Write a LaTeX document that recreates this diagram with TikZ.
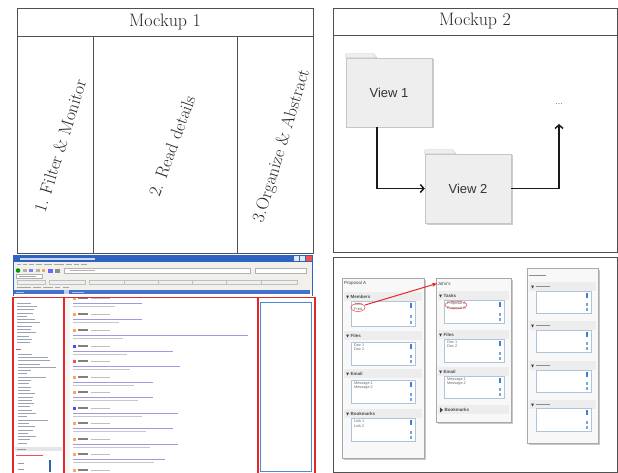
\documentclass[tikz,border=0pt]{standalone}
\usepackage{fontspec}
\newfontfamily\arialfont{Liberation Sans}
\usetikzlibrary{arrows.meta}

\definecolor{frame}{HTML}{505050}
\definecolor{folderfill}{HTML}{EEEEEE}
\definecolor{folderdraw}{HTML}{C6C6C6}
\definecolor{band}{HTML}{EDEDED}
\definecolor{boxline}{HTML}{AFC4DA}
\definecolor{scrollblue}{HTML}{3F7FD0}
\definecolor{panelfill}{HTML}{F8F8F8}
\definecolor{paneldraw}{HTML}{A9A9A9}
\definecolor{winblue}{HTML}{2F63C2}
\definecolor{chrome}{HTML}{F1F0EA}
\definecolor{linkblue}{HTML}{9A9AE6}
\definecolor{listgrey}{HTML}{9AA3B5}
\definecolor{shotred}{HTML}{E8262A}
\definecolor{shotblue}{HTML}{4A88D8}

% one collapsible list section of a view panel
\newcommand\lsec[9]{%
  \fill[band] (#1,{#3-5}) rectangle (#2,{#3+4});
  \fill[black!75] ({#4-5},{#3-1.5}) -- ({#4-2},{#3-1.5}) -- ({#4-3.5},{#3+1.5}) -- cycle;
  \node[seclabel,anchor=west] at ({#4-1},#3) {#8};
  \draw[boxline,fill=white] (#4,#6) rectangle (#5,#7);
  \fill[scrollblue] ({#5-5},{#6+2}) rectangle ({#5-3},{#6+7});
  \fill[scrollblue!70] ({#5-5},{(#6+#7)/2+1}) rectangle ({#5-3},{(#6+#7)/2+4});
  \fill[scrollblue!70] ({#5-5},{#7-5}) rectangle ({#5-3},{#7-2});
  \node[itemtext,anchor=north west,align=left] at ({#4+3},{#6+1.5}) {#9};
}

% a folder-shaped view with a soft shadow
\newcommand\folderbox[4]{%
  \fill[black!20] ({#2-41.5},{#3-33}) rectangle ({#2+44.5},{#3+36});
  \node[folder] (#1) at (#2,#3) {#4};
  \filldraw[fill=folderfill,draw=folderdraw] (#1.north west) -- ++(0,-4) -- ++(28,0) -- ++(3,4) -- cycle;
}

\begin{document}
\begin{tikzpicture}[x=1pt,y=-1pt,
  boxframe/.style={draw=frame,line width=0.9pt},
  headtext/.style={font=\fontsize{18}{20}\selectfont,text=black!85},
  coltext/.style={font=\fontsize{17.5}{20}\selectfont,text=black!85},
  folder/.style={draw=folderdraw,fill=folderfill,minimum width=86pt,minimum height=69pt,
    inner sep=0pt,font=\arialfont\fontsize{13}{15}\selectfont,text=black!80},
  flow/.style={draw=black!90,line width=1.5pt,-{Straight Barb[length=3.5pt,width=8pt]}},
  seclabel/.style={font=\arialfont\fontsize{4.5}{5}\selectfont\bfseries,text=black!70,inner sep=0.5pt},
  itemtext/.style={font=\arialfont\fontsize{3.8}{4.6}\selectfont,text=black!60,inner sep=0pt},
  paneltitle/.style={font=\arialfont\fontsize{4.5}{5}\selectfont,text=black!75,inner sep=0.5pt},
  panel/.style={draw=paneldraw,fill=panelfill,line width=0.6pt},
  listtext/.style={draw=listgrey,line width=0.7pt},
  linktext/.style={draw=linkblue,line width=1pt},
  greytext/.style={draw=black!22,line width=0.6pt}]
\useasboundingbox (0,0) rectangle (618,473);
\fill[white] (0,0) rectangle (618,473);

% ---------------- Mockup 1: three columns ----------------
\draw[boxframe] (17,8) rectangle (313,253);
\draw[boxframe] (17,36) -- (313,36);
\draw[boxframe] (93,36) -- (93,253);
\draw[boxframe] (237,36) -- (237,253);
\node[headtext] (m1) at (165,22) {Mockup 1};
\node[coltext,rotate=72.5] (c1) at (60,146) {1. Filter \& Monitor};
\node[coltext,rotate=70] (c2) at (172,146) {2. Read details};
\node[coltext,rotate=73] (c3) at (282,146) {3.Organize \& Abstract};

% ---------------- Mockup 2: chained views ----------------
\draw[boxframe] (333,8) rectangle (617,252);
\draw[boxframe] (333,35) -- (617,35);
\node[headtext] (m2) at (475,21) {Mockup 2};
\folderbox{v1}{389}{92.5}{View 1}
\folderbox{v2}{468}{188.5}{View 2}
\node[font=\arialfont\fontsize{9}{10}\selectfont,text=black!55] (more) at (559,104) {...};
\coordinate (up) at (559,124);
\draw[flow] ([xshift=-12pt]v1.south) |- (v2.west);
\draw[flow] (v2.east) -| (up);

% ---------------- Screenshot of the first mockup ----------------
% window chrome
\fill[white] (13,255) rectangle (313,473);
\fill[winblue] (13,255) rectangle (313,262);
\fill[white!75!winblue] (20,257.5) rectangle (95,259.5);
\fill[white!85!winblue] (294,256) rectangle (299,261);
\fill[white!85!winblue] (300,256) rectangle (305,261);
\fill[red!70] (306,256) rectangle (312,261);
\fill[chrome] (13,262) rectangle (313,294);
\foreach \x/\w in {17/4,23/4,29/5,36/6,44/8,54/10,66/6,74/5,81/6}
  \draw[black!35,line width=0.6pt] (\x,264.5) -- ++(\w,0);
\fill[green!60!black] (18,270.5) circle (2.3);
\fill[black!30] (23,269) rectangle (27,272);
\fill[blue!50] (29,269) rectangle (33,272);
\fill[black!30] (36,269) rectangle (40,272);
\fill[orange!70] (42,269) rectangle (45,272);
\fill[blue!60] (48,268.5) rectangle (53,272.5);
\fill[black!45] (55,268.5) rectangle (60,272.5);
\draw[black!30,fill=white,line width=0.4pt] (64,268) rectangle (250,273);
\draw[black!30,line width=0.5pt] (70,270.5) -- (95,270.5);
\draw[black!30,fill=white,line width=0.4pt] (255,268) rectangle (306,273);
\draw[black!30,fill=white,line width=0.4pt] (16,274.5) rectangle (42,278.5);
\draw[black!35,line width=0.5pt] (19,276.5) -- (36,276.5);
\foreach \x/\w in {17/28,49/36,89/36,124/36,158/36,192/36,226/36,261/36}
  \draw[black!25,fill=white!94!black,line width=0.3pt] (\x,280) rectangle ++(\w,4);
\foreach \x/\w in {17/14,33/8,43/10,55/5,63/6}
  \draw[black!35,line width=0.5pt] (\x,287) -- ++(\w,0);
\fill[winblue!90] (13,289.5) rectangle (310,294);
\fill[white!70!winblue] (64,289.5) rectangle (69,294);
\draw[white!60!winblue,line width=0.5pt] (16,291.8) -- (24,291.8);
\draw[white!60!winblue,line width=0.5pt] (72,291.8) -- (84,291.8);
\draw[winblue,line width=0.8pt] (13,255) -- (13,296) (312.5,255) -- (312.5,296);

% left pane: tag list
\fill[black!4] (64,297) rectangle (70,473);
\foreach \i/\w in {0/14,1/20,2/17,3/16,4/10,5/18,6/23,7/15,8/14,9/19,10/12,11/15,12/13}
  \draw[listtext] (17,{303+3.3*\i}) -- ++(\w,0);
\draw[shotred!80,line width=0.8pt] (16,349) -- (21,349);
\foreach \i/\w in {0/14,1/30,2/32,3/22,4/38,5/13,6/9,7/28,8/13,9/11,10/13,11/12,12/17,13/15,14/14,15/16,16/12,17/14,18/18,19/9,20/30,21/11,22/17,23/15,24/10,25/18,26/12,27/9}
  \draw[listtext] (18,{354+3.3*\i}) -- ++(\w,0);
\fill[black!10] (15,447) rectangle (62,451);
\draw[black!40,line width=0.5pt] (17,449) -- (26,449);
\draw[shotred!80,line width=0.6pt] (16,455) -- (43,455);
\draw[black!40,line width=0.6pt] (18,463) -- (24,463) (18,469) -- (24,469);
\fill[scrollblue!80!black] (48.5,460) rectangle (51,472);

% middle pane: message list
\foreach \h/\e/\ic in {298/142/orange,314/142/orange,330/248/orange,346/173/blue,361/180/red,377/153/orange,392/153/orange,408/178/blue,423/173/orange,439/178/orange,454/165/orange,470/150/orange}{
  \fill[\ic!70] (73,{\h-1.5}) rectangle (76,{\h+1.5});
  \draw[black!50,line width=1.1pt] (77.5,\h) -- (88,\h);
  \draw[black!25,line width=0.8pt] (91,\h) -- (110,\h);
  \draw[linktext] (73,{\h+5}) -- (\e,{\h+5});
  \draw[greytext] (73,{\h+8}) -- ({\h/4+40},{\h+8});
}
\fill[white] (70,294.5) rectangle (257,297);

% highlighted regions
\draw[shotred,line width=1.3pt] (13,297.5) rectangle (315,474);
\draw[shotred,line width=1.3pt] (64,297.5) -- (64,474);
\draw[shotred,line width=1.3pt] (258,297.5) -- (258,474);
\draw[shotblue,line width=0.9pt] (260.5,302) rectangle (311,471);

% ---------------- Screenshot of the second mockup ----------------
\draw[boxframe] (333,257) rectangle (617,472);

% panel A
\fill[black!22] (343.5,279.5) rectangle (425.5,459.5);
\draw[panel] (342,278) rectangle (424,458);
\node[paneltitle,anchor=west] (pa) at (343.5,283.5) {Proposal A};
\lsec{344}{422}{297}{351}{415}{301}{326}{Members}{John\\Fred}
\lsec{344}{422}{336}{351}{415}{342}{365}{Files}{Doc 1\\Doc 2}
\lsec{344}{422}{374}{351}{415}{380}{403}{Email}{Message 1\\Message 2}
\lsec{344}{422}{414}{351}{415}{418}{441}{Bookmarks}{Link 1\\Link 2}

% panel B
\fill[black!22] (437.5,279.5) rectangle (512.5,423.5);
\draw[panel] (436,278) rectangle (511,422);
\node[paneltitle,anchor=west] (pb) at (437,283.5) {John's};
\lsec{438}{509}{296}{444}{504}{300}{323}{Tasks}{Proposal A\\Proposal B}
\lsec{438}{509}{335}{444}{504}{339}{362}{Files}{Doc 1\\Doc 2}
\lsec{438}{509}{372}{444}{504}{376}{398}{Email}{Message 1\\Message 2}
\fill[band] (438,405) rectangle (509,414);
\fill[black!75] (440,407.5) -- (440,412.5) -- (443,410) -- cycle;
\node[seclabel,anchor=west] (bm) at (444,409.5) {Bookmarks};

% panel C
\fill[black!22] (528.5,269.5) rectangle (599.5,444.5);
\draw[panel] (527,268) rectangle (598,443);
\draw[black!45,line width=0.5pt] (529,275) -- (546,275);
\lsec{529}{596}{287}{536}{591}{291}{313}{\textcolor{black!45}{\rule[1pt]{14pt}{0.4pt}}}{}
\lsec{529}{596}{326}{536}{591}{330}{352}{\textcolor{black!45}{\rule[1pt]{14pt}{0.4pt}}}{}
\lsec{529}{596}{366}{536}{591}{370}{392}{\textcolor{black!45}{\rule[1pt]{14pt}{0.4pt}}}{}
\lsec{529}{596}{405}{536}{591}{408}{431}{\textcolor{black!45}{\rule[1pt]{14pt}{0.4pt}}}{}

% link from a member to that member's own view
\draw[shotred!85,line width=0.5pt] (358,307.5) ellipse (7 and 4);
\draw[shotred!85,line width=0.5pt] (456,305) ellipse (11 and 3.8);
\coordinate (john) at (365,305);
\draw[shotred,line width=1pt,-{Stealth[length=5pt,width=4pt]}] (john) -- (pb.west);
\end{tikzpicture}
\end{document}
